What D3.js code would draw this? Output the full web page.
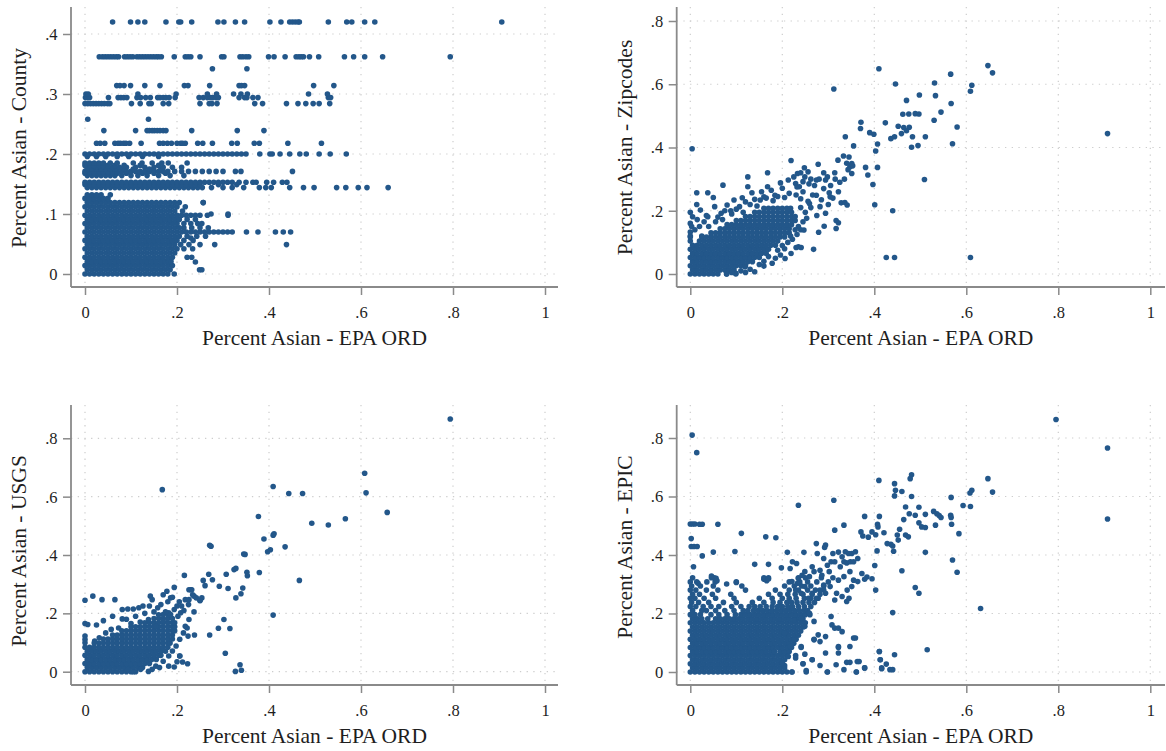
<!DOCTYPE html>
<html><head><meta charset="utf-8">
<script src="https://cdn.jsdelivr.net/npm/d3@7"></script>
<style>body{margin:0;background:#fff}</style>
</head><body>
<svg id="chart" width="1166" height="751"></svg>
<script>
// ---------- labels / ticks ----------
const xTicks = [0, 0.2, 0.4, 0.6, 0.8, 1];
const xTickLabels = ["0", ".2", ".4", ".6", ".8", "1"];
const countyYTicks = [0, 0.1, 0.2, 0.3, 0.4];
const countyYLabels = ["0", ".1", ".2", ".3", ".4"];
const wideYTicks = [0, 0.2, 0.4, 0.6, 0.8];
const wideYLabels = ["0", ".2", ".4", ".6", ".8"];
const xTitle = "Percent Asian - EPA ORD";
const yTitles = ["Percent Asian - County", "Percent Asian - Zipcodes", "Percent Asian - USGS", "Percent Asian - EPIC"];

// ---------- data (values in thousandths) ----------
// rows: "y: x x x ..."   pairs: "x,y x,y ..."
const countyRows = [
"0: 0 10 20 30 40 50 60 70 80 90 100 110 120 130 140 150 160 170 180 194",
"7: 5 15 25 35 45 55 65 75 85 95 105 115 125 135 145 155 165 175 185 249 254",
"14: 0 10 20 30 40 50 60 70 80 90 100 110 120 130 140 150 160 170 180 190",
"21: 5 15 25 35 45 55 65 75 85 95 105 115 125 135 145 155 165 175 182 187",
"28: 0 10 20 30 40 50 60 70 80 90 100 110 120 130 140 150 160 170 180 190 222 232",
"35: 5 15 25 35 45 55 65 75 85 95 105 115 125 135 145 155 165 175 185 195",
"42: 0 10 20 30 40 50 60 70 80 90 100 110 120 130 140 150 160 170 180 190 200 215 234",
"49: 5 15 25 35 45 55 65 75 85 95 105 115 125 135 145 155 165 175 185 195 208 226 250 282 438",
"56: 0 10 20 30 40 50 60 70 80 90 100 110 120 130 140 150 160 170 180 190 200 215 235",
"63: 5 15 25 35 45 55 65 75 85 95 105 115 125 135 145 155 165 175 185 195 205 222 243 262",
"70: 0 10 20 30 40 50 60 70 80 90 100 110 120 130 140 150 160 170 180 190 200 210 220 230 240 250 260 270 280 290 300 310 320 351 376 414 431 447",
"77: 5 15 25 35 45 55 65 75 85 95 105 115 125 135 145 155 165 175 185 195 205 215 232 250 268",
"84: 0 10 20 30 40 50 60 70 80 90 100 110 120 130 140 150 160 170 180 190 200 215 230 245 254",
"91: 5 15 25 35 45 55 65 75 85 95 105 115 125 135 145 155 165 175 185 195 205 222 240",
"98: 0 10 20 30 40 50 60 70 80 90 100 110 120 130 140 150 160 170 180 190 200 210 220 230 240 250 266 311",
"105: 5 15 25 35 45 55 65 75 85 95 105 115 125 135 145 155 165 175 185 195 212",
"112: 0 10 20 30 40 50 60 70 80 90 100 110 120 130 140 150 160 170 180 190 200 218",
"119: 5 15 25 35 45 55 65 75 85 95 105 115 125 135 145 155 165 175 185 195 205 257",
"126: 0 10 20 30 40 50",
"132: 5 15 25 35 55",
"144: 5 15 25 35 45 55 65 75 85 95 105 115 125 135 145 155 165 175 185 195 205 215 225 235 245 255 275 300 320 345 379 393 405 445 475 498 547 567 594 613 659",
"149: 0 10 20 30 40 50 60 70 80 90 100 110 120 130 140 150 160 170 180 190 200 210 220 230 240 250 290 330",
"153: 0 10 20 30 40 50 60 70 80 90 100 110 120 130 140 150 160 170 180 190 200 210 220 230 240 250 260 270 280 290 300 310 320 335 350 365 372 395 410 429 439",
"164: 5 15 25 35 45 55 65 80 100 115 135 160 185 215",
"168: 0 10 20 30 40 50 60 70 90 125 150 175",
"171: 0 10 20 30 40 50 60 70 80 90 100 110 120 130 140 150 160 170 180 195 210 225 240 255 270 285 300 327 339 451",
"175: 5 15 25 35 45 55 65 85 105 140 165",
"178: 5 15 25 35 45 60 75 90 110 130 150 170 190 210",
"181: 0 10 20 30 40 50 65 85 120 160",
"185: 0 10 20 30 40 55 70 105 124 146 167 181 222",
"196: 5 25 45 70 95 125 160",
"200: 0 10 20 30 40 50 60 70 80 90 100 110 120 130 140 150 160 170 180 190 200 210 220 230 240 250 260 270 280 290 300 310 320 330 340 350 380 402 407 424 445 467 481 509 533 568",
"218: 25 33 43 65 72 77 84 89 97 122 162 170 179 188 200 208 212 218 245 256 277 319 331 368 379 441 514",
"239: 41 110 135 140 146 151 157 163 170 176 232 331 389",
"258: 6 138",
"284: 0 6 12 18 24 30 36 42 49 54 101 120 139 144 170 182 250 270 276 287 369 386 438 463 480 496 509 532",
"294: 1 6 10 51 72 78 84 91 113 121 132 142 158 163 170 176 183 196 248 257 266 273 278 285 290 335 347 352 365 376 529 534",
"300: 2 7 115 198 266 286 323 339 353 486 527",
"314: 69 76 85 99 130 163 216 224 271 335 340 347 497 541",
"342: 277 352",
"362: 31 38 44 50 56 62 68 73 86 92 98 104 113 119 125 131 137 143 149 155 160 166 194 218 224 230 250 297 302 337 343 350 356 399 411 435 459 465 470 475 488 508 564 584 608 647 794",
"420: 60 99 115 130 176 204 208 232 289 302 327 347 402 426 445 451 457 463 466 529 569 580 608 630 906"
];
const countyPts = "257,119 311,100 274,100 230,60 240,20";

const zipRows = [
"0: 0 10 20 30 40 50 60 79 99",
"13: 5 15 25 35 45 55 65 75 85 95",
"26: 0 10 20 30 40 50 60 70 80 90 100 110 120",
"39: 5 15 25 35 45 55 65 75 85 95 105 115 125 135",
"52: 0 10 20 30 40 50 60 70 80 90 100 110 120 130 140 150",
"65: 5 15 25 35 45 55 65 75 85 95 105 115 125 135 145 155 165",
"78: 0 10 20 30 40 50 60 70 80 90 100 110 120 130 140 150 160 170",
"91: 5 15 25 35 45 55 65 75 85 95 105 115 125 135 145 155 165 175 185",
"104: 0 20 30 40 50 60 70 80 90 100 110 120 130 140 150 160 170 180 190",
"117: 0 25 35 45 55 65 75 85 95 105 115 125 135 145 155 165 175 185 195 205",
"130: 45 55 65 75 85 95 105 115 125 135 145 155 165 175 185 195 205 215",
"143: 65 75 85 95 105 115 125 135 145 155 165 175 185 195 205 215",
"156: 80 90 100 110 120 130 140 150 160 170 180 190 200 210 220",
"169: 100 110 120 130 140 150 160 170 180 190 200 210 220 228",
"182: 120 130 140 150 160 170 180 190 200 210 220 228",
"195: 140 150 160 170 180 190 200 210 220",
"208: 160 170 180 190 200 210 218"
];
const zipPts =
"0,120 0,133 3,150 0,160 5,181 0,195 14,220 14,257 38,257 50,242 71,281 4,396 22,202 38,181 53,213 67,192 80,218 88,200 95,234 107,213 113,241 125,276 125,307 134,257 140,236 152,234 160,244 168,320 168,276 176,265 184,249 196,288 200,271 213,297 219,359 225,307 229,286 233,318 237,276 245,292 10,140 20,150 30,165 15,172 25,120 40,150 55,165 35,185 60,180 75,200 70,172 90,190 100,205 115,195 130,220 145,215 120,228 155,260 165,240 180,232 190,245 205,242 215,255 230,250 240,238 " +
"79,0 99,2 119,23 140,7 130,15 150,30 160,40 178,34 196,60 206,49 219,65 230,84 235,86 241,84 268,78 190,75 200,90 212,100 222,110 232,125 240,140 247,139 253,176 235,150 245,165 228,140 218,120 205,80 170,55 185,50 160,25 110,10 120,5 90,5 " +
"248,336 256,323 249,307 240,320 262,300 274,297 278,347 290,270 294,297 298,307 302,257 304,244 314,320 321,360 322,260 333,373 345,370 351,349 347,339 353,342 343,330 351,318 328,225 336,226 341,218 317,169 322,162 317,144 291,151 279,132 274,249 259,223 282,213 294,192 266,250 285,235 300,220 310,240 270,280 262,210 250,195 256,230 240,210 245,260 232,275 258,285 280,300 290,320 305,280 315,300 325,290 335,300 340,350 275,185 " +
"907,444 647,659 657,636 410,649 446,601 312,585 531,604 566,632 612,597 609,578 498,566 533,564 470,549 462,505 475,506 489,507 497,506 567,539 545,512 530,486 580,465 371,480 370,460 424,478 390,447 399,442 452,467 464,463 476,464 470,453 483,434 436,428 444,434 459,444 511,434 407,411 403,389 481,401 495,406 570,412 337,434 355,405 407,337 381,337 386,313 397,283 509,299 401,219 440,200 426,52 444,52 609,52";

const usgsRows = [
"0: 0 10 20 30 40 50 60 70 80 90 100 110",
"14: 5 15 25 35 45 55 65 75 85 95 105 115 125",
"28: 0 10 20 30 40 50 60 70 80 90 100 110 120 130 140",
"42: 5 15 25 35 45 55 65 75 85 95 105 115 125 135 145 155",
"56: 0 10 20 30 40 50 60 70 80 90 100 110 120 130 140 150 160 165",
"70: 5 15 25 35 45 55 65 75 85 95 105 115 125 135 145 155 165 175",
"84: 0 10 20 30 40 50 60 70 80 90 100 110 120 130 140 150 160 170 180",
"98: 20 30 40 50 60 70 80 90 100 110 120 130 140 150 160 170 180 185",
"112: 40 50 60 70 80 90 100 110 120 130 140 150 160 170 180 190",
"126: 60 70 80 90 100 110 120 130 140 150 160 170 180 190",
"140: 80 90 100 110 120 130 140 150 160 170 180 190 195",
"154: 100 110 120 130 140 150 160 170 180 190 195",
"168: 130 140 150 160 170 180 190 195",
"182: 150 160 170 180 190",
"196: 170 180 186"
];
const usgsPts =
"794,866 168,624 608,680 611,613 409,635 443,611 473,611 657,546 566,524 529,503 493,509 377,532 389,455 409,468 411,473 403,418 397,411 435,428 345,403 348,402 466,313 409,194 271,433 274,430 379,340 352,341 353,329 324,350 328,354 307,334 269,334 257,313 261,295 277,315 292,293 311,285 343,287 339,267 328,253 216,330 194,289 230,281 237,259 250,244 226,281 302,179 290,149 315,148 271,126 305,63 327,1 337,24 340,5 237,205 238,126 224,122 206,54 200,34 212,33 223,27 194,16 138,1 " +
"0,245 17,259 37,247 65,247 0,165 6,162 25,160 0,122 0,99 0,110 81,213 93,215 105,215 117,219 126,225 81,181 73,150 57,145 45,133 31,116 21,105 142,259 146,247 158,219 170,264 178,276 186,253 182,202 194,213 202,190 208,202 170,173 154,156 138,179 218,247 210,225 226,247 234,264 242,253 250,244 254,253 232,281 " +
"121,8 154,19 170,36 182,54 190,71 206,54 198,88 206,111 214,133 222,150 226,179 218,156 182,19 162,14 146,8 105,0 93,8 " +
"60,190 40,175 110,190 130,200 150,205 165,230 120,170 100,165 90,180 140,225 160,195 175,205 200,225 215,210 225,230 205,240 190,255 180,240";

const epicRows = [
"0: 0 10 20 30 40 50 60 70 80 90 100 110 120 130 140 150 160 170 180 190 200 210 221 252 298 361",
"14: 5 15 25 35 45 55 65 75 85 95 105 115 125 135 145 155 165 175 185 195 205 379 416",
"28: 0 10 20 30 40 50 60 70 80 90 100 110 120 130 140 150 160 170 180 190 200 245",
"42: 5 15 25 35 45 55 65 75 85 95 105 115 125 135 145 155 165 175 185 195 205 265 413",
"56: 0 10 20 30 40 50 60 70 80 90 100 110 120 130 140 150 160 170 180 190 200 210 229",
"70: 5 15 25 35 45 55 65 75 85 95 105 115 125 135 145 155 165 175 183 195 205 215 411",
"84: 0 10 20 30 40 50 60 70 80 90 100 110 120 130 140 150 160 170 180 190 200 210 220 241 322",
"98: 5 15 25 35 45 55 65 75 85 95 105 115 125 135 145 155 165 175 185 195 205 215 225",
"112: 0 10 20 30 40 50 60 70 80 90 100 110 120 130 140 150 160 170 180 190 200 210 220 230 269",
"126: 5 15 25 35 45 55 65 75 85 95 105 115 125 135 145 155 165 175 185 195 205 215 225 235",
"140: 0 10 20 30 40 50 60 70 80 90 100 110 120 130 140 150 160 170 180 190 200 210 220 230 240",
"154: 5 15 25 35 45 55 65 75 85 95 105 115 125 135 145 155 165 175 185 195 205 215 225 235 245",
"168: 0 10 20 30 40 50 60 70 80 90 100 110 120 130 140 150 160 170 180 190 200 210 220 230 240 250",
"182: 5 15 25 38 55 65 75 85 95 105 115 125 135 145 155 165 175 185 195 205 215 225 235 245",
"196: 0 10 22 45 62 80 98 110 120 130 140 150 160 170 180 190 200 210 220 230 240 250 260",
"210: 5 25 35 55 75 95 115 125 137 147 157 167 177 187 197 207 217 227 237 247 255",
"224: 0 12 28 45 62 90 110 128 140 152 165 178 190 200 212 222 235 248 262",
"238: 3 18 40 72 100 135 160 180 195 210 220 232 245 258 270",
"252: 0 10 30 55 95 150 178 200 215 230 248 262 278",
"266: 5 20 48 88 170 195 212 228 245 265 282",
"280: 0 12 35 60 120 185 215 235 255 272 290",
"294: 3 22 50 112 205 226 242 262 290",
"308: 0 14 36 54 100 215 238 255 275 300",
"322: 5 46 52 160 170 235 250 285 310"
];
const epicPts =
"4,810 14,750 795,863 907,766 907,523 481,674 478,661 410,655 444,644 446,621 460,617 444,602 481,600 647,661 612,621 608,612 657,615 567,597 593,569 609,566 312,587 235,570 468,564 497,563 476,541 489,536 511,539 464,521 529,549 536,541 541,535 545,528 566,536 567,528 533,502 568,505 497,510 503,496 511,494 584,473 379,532 411,532 407,505 408,496 395,479 387,461 421,476 403,469 371,479 375,465 334,502 314,485 428,439 440,431 436,437 455,488 450,468 452,451 468,468 474,462 442,413 406,414 511,409 570,383 580,341 631,217 515,076 440,203 460,346 489,289 497,269 403,280 395,319 384,325 401,364 " +
"0,506 5,506 10,506 20,505 26,505 60,505 2,456 2,429 8,429 15,429 26,397 50,410 97,412 111,474 164,462 186,459 7,360 140,368 170,368 211,409 247,409 198,356 17,303 46,328 56,320 58,312 79,301 100,306 160,317 166,312 170,318 " +
"217,354 222,377 231,371 235,320 243,331 249,343 259,326 265,360 269,343 274,439 276,405 282,348 286,331 290,388 292,426 294,434 298,365 302,343 306,377 310,405 314,377 322,410 326,360 330,394 334,377 337,411 340,373 344,405 348,377 351,405 355,377 359,411 364,388 347,343 334,326 322,314 341,280 340,241 330,258 318,269 314,246 304,292 294,269 290,297 282,280 274,252 265,269 257,252 249,292 241,269 233,303 229,280 221,309 379,317 373,337 364,309 355,314 351,292 345,252 " +
"226,178 241,184 249,156 259,201 269,173 278,127 269,110 282,104 294,121 306,190 314,150 322,150 330,138 308,161 347,87 355,116 359,116 322,65 322,87 294,65 282,22 298,0 317,25 334,8 340,33 347,33 363,36 367,36 361,0 379,14 241,87 249,61 217,87 225,110 205,133 205,22 221,0 245,28 252,5 265,42 229,48 213,53 200,31 183,70 411,70 413,42 416,11 426,27 434,8 440,8 444,59";

// ---------- parsing ----------
function parsePoints(rows, pairs) {
  const out = [];
  rows.forEach(r => {
    const [yv, xs] = r.split(":");
    xs.trim().split(/\s+/).forEach(xv => out.push([+xv / 1000, +yv / 1000]));
  });
  pairs.trim().split(/\s+/).filter(s => s.length).forEach(p => {
    const [xv, yv] = p.split(",");
    out.push([+xv / 1000, +yv / 1000]);
  });
  return out;
}

// ---------- layout ----------
const panels = [
  {pts: parsePoints(countyRows, countyPts), yTicks: countyYTicks, yLabels: countyYLabels, yTitle: yTitles[0],
   left: 71, right: 558, top: 7, bottom: 287, xr: [85, 545], yd: [0, 0.4], yr: [274, 34], ytx: 26, yty: 148, xtb: 345},
  {pts: parsePoints(zipRows, zipPts), yTicks: wideYTicks, yLabels: wideYLabels, yTitle: yTitles[1],
   left: 676.7, right: 1165, top: 7, bottom: 287, xr: [690.3, 1150.3], yd: [0, 0.8], yr: [274, 21], ytx: 631.5, yty: 147.5, xtb: 345},
  {pts: parsePoints(usgsRows, usgsPts), yTicks: wideYTicks, yLabels: wideYLabels, yTitle: yTitles[2],
   left: 71, right: 558, top: 405, bottom: 685, xr: [85, 545], yd: [0, 0.8], yr: [671.7, 438.3], ytx: 25.5, yty: 551, xtb: 743},
  {pts: parsePoints(epicRows, epicPts), yTicks: wideYTicks, yLabels: wideYLabels, yTitle: yTitles[3],
   left: 676.7, right: 1165, top: 405, bottom: 685, xr: [690.3, 1150.3], yd: [0, 0.8], yr: [672, 438], ytx: 631.5, yty: 547, xtb: 743}
];

const FONT = "'Liberation Serif', 'Times New Roman', serif";
const DOT = "#23578a";
const AXIS = "#8a8a8a";
const GRID = "#cdcdcd";
const TEXT = "#1e1e1e";

const svg = d3.select("#chart");
svg.append("rect").attr("width", 1166).attr("height", 751).attr("fill", "#fff");

panels.forEach((p, pi) => {
  const x = d3.scaleLinear().domain([0, 1]).range(p.xr);
  const y = d3.scaleLinear().domain(p.yd).range(p.yr);
  const g = svg.append("g");

  // gridlines
  g.selectAll("line.gx").data(xTicks).join("line").attr("class", "gx")
    .attr("x1", d => x(d)).attr("x2", d => x(d)).attr("y1", p.top).attr("y2", p.bottom)
    .attr("stroke", GRID).attr("stroke-width", 1.2).attr("stroke-dasharray", "1.3,5.4");
  g.selectAll("line.gy").data(p.yTicks).join("line").attr("class", "gy")
    .attr("x1", p.left).attr("x2", p.right).attr("y1", d => y(d)).attr("y2", d => y(d))
    .attr("stroke", GRID).attr("stroke-width", 1.2).attr("stroke-dasharray", "1.3,5.4");

  // points
  g.append("g").selectAll("circle").data(p.pts).join("circle")
    .attr("cx", d => x(d[0])).attr("cy", d => y(d[1])).attr("r", 2.8).attr("fill", DOT);

  // x axis
  const gx = g.append("g").attr("transform", `translate(0,${p.bottom})`)
    .call(d3.axisBottom(x).tickValues(xTicks).tickFormat((d, i) => xTickLabels[i]).tickSize(8).tickSizeOuter(0));
  gx.select(".domain").remove();
  gx.attr("font-family", null).attr("font-size", null);
  gx.selectAll(".tick line").attr("stroke", AXIS).attr("stroke-width", 1.5);
  gx.selectAll(".tick text").attr("y", 31).attr("dy", null)
    .style("font-family", FONT).attr("font-size", 16.5).attr("fill", TEXT);

  // y axis
  const gy = g.append("g").attr("transform", `translate(${p.left},0)`)
    .call(d3.axisLeft(y).tickValues(p.yTicks).tickFormat((d, i) => p.yLabels[i]).tickSize(8).tickSizeOuter(0));
  gy.select(".domain").remove();
  gy.attr("font-family", null).attr("font-size", null);
  gy.selectAll(".tick line").attr("stroke", AXIS).attr("stroke-width", 1.5);
  gy.selectAll(".tick text").attr("x", -13.5).attr("dy", "0.33em")
    .style("font-family", FONT).attr("font-size", 16.5).attr("fill", TEXT);

  // axis lines
  g.append("line").attr("x1", p.left).attr("x2", p.right).attr("y1", p.bottom).attr("y2", p.bottom)
    .attr("stroke", AXIS).attr("stroke-width", 1.8);
  g.append("line").attr("x1", p.left).attr("x2", p.left).attr("y1", p.top).attr("y2", p.bottom)
    .attr("stroke", AXIS).attr("stroke-width", 1.8);

  // titles
  g.append("text").attr("x", (p.left + p.right) / 2).attr("y", p.xtb)
    .attr("text-anchor", "middle").style("font-family", FONT).attr("font-size", 21.5).attr("fill", TEXT)
    .text(xTitle);
  g.append("text").attr("transform", `translate(${p.ytx},${p.yty}) rotate(-90)`)
    .attr("text-anchor", "middle").style("font-family", FONT).attr("font-size", 21.5).attr("fill", TEXT)
    .text(p.yTitle);
});
</script>
</body></html>
